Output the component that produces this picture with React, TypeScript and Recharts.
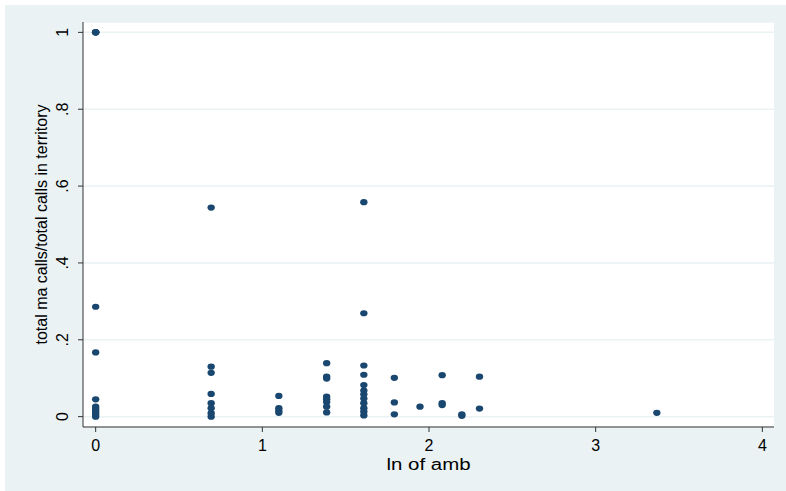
import React from 'react';
import {
    ScatterChart,
    Scatter,
    XAxis,
    YAxis,
    CartesianGrid,
    Label,
} from 'recharts';

// ln of amb values (x) and share of ma calls (y)
const lnAmb = [
    0, 0, 0, 0, 0, 0, 0, 0, 0, 0, 0, 0, 0,
    0.693, 0.693, 0.693, 0.693, 0.693, 0.693, 0.693, 0.693,
    1.099, 1.099, 1.099, 1.099,
    1.386, 1.386, 1.386, 1.386, 1.386, 1.386, 1.386, 1.386,
    1.609, 1.609, 1.609, 1.609, 1.609, 1.609, 1.609, 1.609, 1.609, 1.609, 1.609, 1.609,
    1.792, 1.792, 1.792,
    1.946,
    2.079, 2.079, 2.079,
    2.197, 2.197,
    2.303, 2.303,
    3.367,
];

const maShare = [
    1, 1, 1, 1, 0.286, 0.167, 0.045, 0.026, 0.02, 0.015, 0.01, 0.005, 0,
    0.544, 0.13, 0.114, 0.059, 0.035, 0.022, 0.009, 0,
    0.054, 0.022, 0.015, 0.01,
    0.139, 0.104, 0.099, 0.052, 0.045, 0.038, 0.026, 0.011,
    0.558, 0.269, 0.133, 0.109, 0.082, 0.068, 0.058, 0.047, 0.035, 0.022, 0.013, 0.003,
    0.101, 0.037, 0.006,
    0.026,
    0.108, 0.035, 0.03,
    0.006, 0.002,
    0.104, 0.021,
    0.01,
];

const xTicks = [0, 1, 2, 3, 4];
const yTicks = [0, 0.2, 0.4, 0.6, 0.8, 1];

const points = lnAmb.map((x, i) => ({ x, y: maShare[i] }));

const BG = '#eaf2f3';
const DOT = '#1a476f';
const FONT = 'Liberation Sans, Arial, sans-serif';

const fmtY = (v: number) => (v === 0 ? '0' : v === 1 ? '1' : '.' + Math.round(v * 10));

const YTick = (props: any) => {
    const { x, y, payload } = props;
    const cx = x - 13;
    return (
        <text
            x={cx}
            y={y}
            transform={`rotate(-90, ${cx}, ${y})`}
            textAnchor="middle"
            dominantBaseline="central"
            fontSize={16}
            fontFamily={FONT}
            fill="#000"
        >
            {fmtY(payload.value)}
        </text>
    );
};

const XTick = (props: any) => {
    const { x, y, payload } = props;
    return (
        <text
            x={x}
            y={y + 11}
            textAnchor="middle"
            dominantBaseline="central"
            fontSize={16}
            fontFamily={FONT}
            fill="#000"
        >
            {payload.value}
        </text>
    );
};

const Dot = (props: any) => (
    <ellipse cx={props.cx} cy={props.cy} rx={3.7} ry={3.1} fill={DOT} />
);

export default function App() {
    return (
        <div style={{ position: 'absolute', left: 0, top: 0, width: 786, height: 491, background: '#fff' }}>
            <div style={{ position: 'absolute', left: 5, top: 5, width: 781, height: 486, background: BG }} />
            <div style={{ position: 'absolute', left: 0, top: 0 }}>
                <ScatterChart
                    width={786}
                    height={491}
                    margin={{ top: 22, right: 12, bottom: 0, left: 0 }}
                >
                    <CartesianGrid vertical={false} stroke={BG} strokeWidth={1.5} fill="#fff" fillOpacity={1} />
                    <XAxis
                        type="number"
                        dataKey="x"
                        domain={[-0.076, 4.07]}
                        ticks={xTicks}
                        allowDataOverflow
                        height={64}
                        stroke="#333"
                        tickSize={5}
                        tick={<XTick />}
                    >
                        <Label
                            content={(p: any) => {
                                const vb = p.viewBox;
                                return (
                                    <text
                                        x={vb.x + vb.width / 2}
                                        y={470}
                                        textAnchor="middle"
                                        fontSize={16}
                                        fontFamily={FONT}
                                        fill="#000"
                                        textLength={84}
                                        lengthAdjust="spacingAndGlyphs"
                                    >
                                        ln of  amb
                                    </text>
                                );
                            }}
                        />
                    </XAxis>
                    <YAxis
                        type="number"
                        dataKey="y"
                        domain={[-0.027, 1.027]}
                        ticks={yTicks}
                        allowDataOverflow
                        width={83}
                        stroke="#333"
                        tickSize={5}
                        tick={<YTick />}
                    >
                        <Label
                            content={(p: any) => {
                                const vb = p.viewBox;
                                const cy = vb.y + vb.height / 2;
                                return (
                                    <text
                                        x={41}
                                        y={cy}
                                        transform={`rotate(-90, 41, ${cy})`}
                                        textAnchor="middle"
                                        dominantBaseline="central"
                                        fontSize={16}
                                        fontFamily={FONT}
                                        fill="#000"
                                    >
                                        total ma calls/total calls in territory
                                    </text>
                                );
                            }}
                        />
                    </YAxis>
                    <Scatter data={points} fill={DOT} shape={<Dot />} isAnimationActive={false} />
                </ScatterChart>
            </div>
        </div>
    );
}
